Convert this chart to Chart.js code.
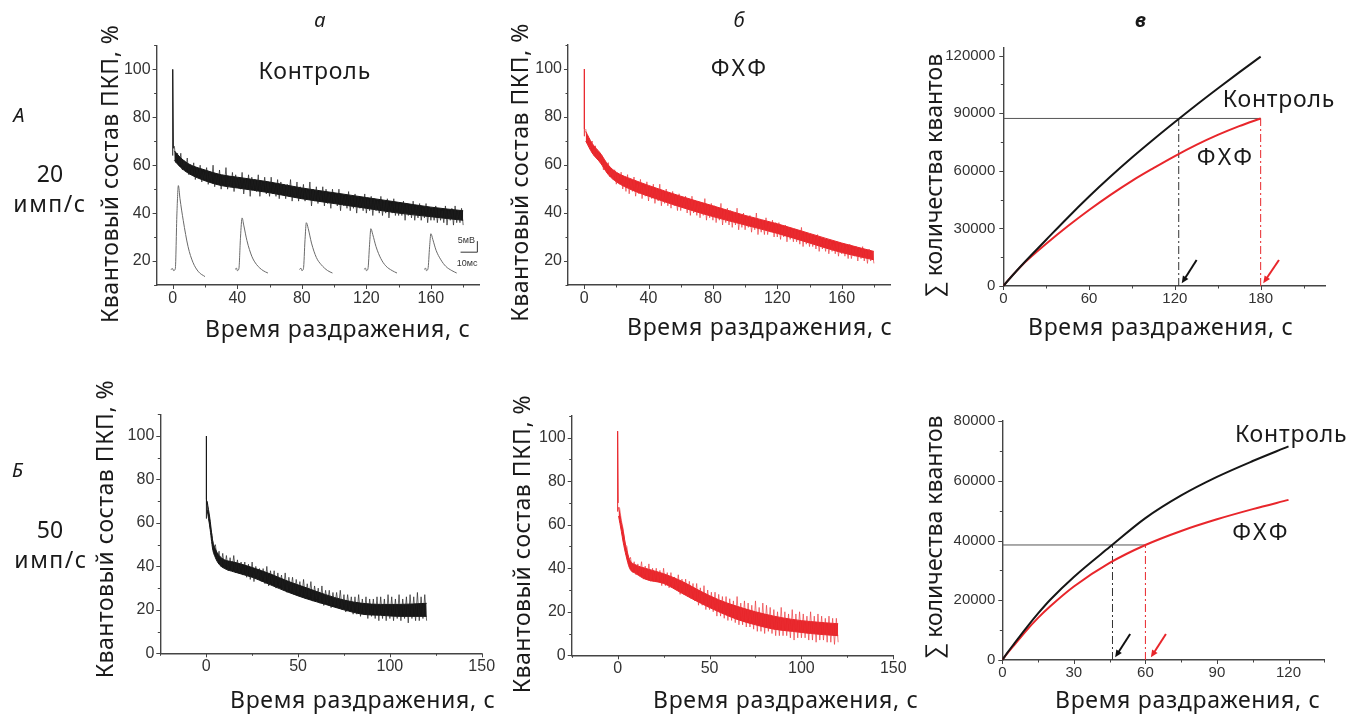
<!DOCTYPE html>
<html><head><meta charset="utf-8">
<script src="https://cdn.jsdelivr.net/npm/chart.js@4.4.1/dist/chart.umd.min.js"></script>
<style>
html,body{margin:0;padding:0;background:#fff;width:1362px;height:715px;overflow:hidden}
canvas{position:absolute;left:0;top:0}
</style></head><body>
<canvas id="cAa" width="1362" height="715"></canvas>
<canvas id="cAb" width="1362" height="715"></canvas>
<canvas id="cAc" width="1362" height="715"></canvas>
<canvas id="cBa" width="1362" height="715"></canvas>
<canvas id="cBb" width="1362" height="715"></canvas>
<canvas id="cBc" width="1362" height="715"></canvas>
<script>
// ================= DATA =================
const STEP = 1; // s between samples of the noisy traces (first sample at t = 1 s); samples alternate upper / lower excursions

// Квантовый состав ПКП, %  — 20 имп/с, Контроль (t = 1..180 s)
const ctrl20 = [68,61,65,60,65,58,62,58,63,56, 60,56,61,54,59,55,60,53,57,54,
 59,52,57,53,60,51,56,52,58,50, 56,52,59,50,55,51,57,49,56,51,
 55,50,57,48,54,50,56,47,55,50, 54,49,56,47,53,49,55,48,53,47,
 55,48,52,47,54,46,53,48,52,46, 52,47,54,45,51,47,53,45,51,46,
 52,45,50,46,53,43,50,45,51,44, 49,45,51,43,50,44,48,42,50,44,
 48,43,50,41,48,43,47,42,49,41, 47,42,48,40,47,42,46,41,48,40,
 46,41,47,39,46,41,45,40,47,39, 45,40,46,38,44,40,46,39,44,39,
 44,39,45,37,44,39,43,38,45,37, 43,38,44,37,42,38,44,36,42,37,
 42,37,43,36,42,37,41,36,43,35, 41,37,42,35,43,36,41,36,42,35];
// dense core of the same trace (times, upper and lower edge)
const coreCtrl20T  = [1,5,10,20,30,40,60,80,100,120,140,160,180];
const coreCtrl20Hi = [66,63,60.5,58,56,55,53,50.5,48.5,46.5,44.5,42.5,41];
const coreCtrl20Lo = [62,59,56.5,53.5,51.5,50.5,48.5,46,44,42,40,38.5,37];
const ctrl20SpikeT = [0, 0, 0.4];
const ctrl20SpikeV = [64, 100, 67];

// 20 имп/с, ФХФ (t = 1..180 s)
const phcp20 = [75,70,71,67,70,64,68,63,65,61, 64,58,61,57,61,55,58,54,58,52,
 56,52,57,50,55,49,56,48,54,49, 55,47,52,48,54,46,51,47,53,45,
 51,46,52,44,50,45,52,43,49,44, 50,43,48,42,49,43,47,41,48,41,
 46,42,47,40,46,39,47,40,45,39, 45,38,44,39,46,37,43,38,44,37,
 43,36,42,37,44,35,41,36,42,35, 41,34,40,35,42,33,39,34,40,33,
 38,34,39,32,38,33,40,31,37,32, 37,31,38,31,36,32,37,30,36,30,
 36,29,34,30,35,28,34,29,33,28, 33,28,32,27,34,26,32,27,31,26,
 31,26,30,25,31,24,29,25,29,24, 29,23,28,24,27,23,28,22,27,23,
 27,22,26,21,27,21,25,22,26,20, 25,21,26,20,24,19,25,20,24,19];
const corePhcp20T  = [1,5,10,15,20,30,40,60,80,100,120,140,160,180];
const corePhcp20Hi = [74,69,65,60,57,54,51.5,47,43,39,35.5,31.5,27.5,24];
const corePhcp20Lo = [70,65,61,56,53,49.5,47,42.5,38.5,35,31.5,27.5,23.5,20.5];
const phcp20SpikeT = [0, 0, 0.3];
const phcp20SpikeV = [72, 100, 75];

// 50 имп/с, Контроль (t = 1..120 s)
const ctrl50 = [66,58,55,48,50,43,47,40,46,39, 45,38,44,38,45,37,43,37,42,36,
 42,35,41,34,42,33,40,34,39,33, 39,32,40,31,38,32,38,30,37,31,
 36,29,37,28,35,29,35,27,34,28, 33,26,34,25,32,26,33,24,31,25,
 30,23,31,22,29,23,29,21,28,22, 28,21,29,20,27,19,27,20,26,18,
 26,18,27,17,25,18,26,16,25,17, 25,16,26,15,26,16,25,15,27,16,
 26,15,25,16,27,15,25,16,26,14, 27,16,26,15,28,15,26,16,27,15];
const coreCtrl50T  = [0.5,2,3.5,5,7,10,15,25,35,45,55,65,75,85,95,105,120];
const coreCtrl50Hi = [70,62,52,48,45,43,42,39.5,36.5,33,30,27,24.5,23,22.5,22.5,23];
const coreCtrl50Lo = [66,58,48,44,41,39,37.5,35,31.5,28,25,22.5,20,18,17.5,17,17];
const ctrl50SpikeT = [0, 0, 0.2, 0.5];
const ctrl50SpikeV = [62, 100, 71, 68];

// 50 имп/с, ФХФ (t = 1..120 s)
const phcp50 = [68,62,58,51,50,43,45,39,43,37, 42,37,43,35,41,35,42,34,40,34,
 40,34,39,32,40,32,38,31,38,31, 36,30,37,28,35,28,35,27,34,26,
 33,25,33,23,31,23,32,21,30,21, 29,20,29,18,28,18,27,17,27,16,
 26,16,25,15,27,14,24,14,25,13, 24,13,23,12,25,11,22,11,24,10,
 23,11,22,10,21,9,20,9,22,9, 20,9,19,8,21,7,19,8,20,8,
 19,8,18,7,20,7,18,6,19,7, 18,7,17,6,18,6,17,5,17,6];
const corePhcp50T  = [0.5,2,3,4.5,6.5,10,15,25,35,45,55,65,75,85,95,105,120];
const corePhcp50Hi = [68,61,57,50,44,41.5,40,37.5,34,29.5,25.5,22.5,20,18,16.5,15.5,14.5];
const corePhcp50Lo = [64,57,52,46,40,37.5,35,33,28.5,24,20,16.5,14,12,11,10,9];
const phcp50SpikeT = [0, 0, 0.3];
const phcp50SpikeV = [66, 103, 70];

// Inset EPSP traces (panel А-а), drawn in the panel's coordinates
const epspT = [
  [-1.2,0,0.5,1.6,2.6,3.5,4.5,6.5,9.5,12.5,16,20],
  [38.6,39.6,40,41,42,43,44,46,49,52,56,59],
  [78.5,79.5,80,81,82,82.8,84,86,89,92,96,99],
  [118.5,119.5,120,121,122,122.8,124,126,129,132,136,139],
  [155.8,156.8,157.2,158.2,159.2,160,161.2,163.2,166.2,169.2,173,176]
];
const epspV = [
  [16.5,16.8,16,16.8,40,51.5,46,37,26,19.5,15.5,13.5],
  [16.5,17,16,16.8,30,38,35,28.5,22,18.5,16,15],
  [16.5,17,16,16.8,29,36,33.5,27.5,21.5,18.5,16,15],
  [16.5,17,16,16.8,27,33.5,31,26,21,18,16,15],
  [16.5,17,16,16.8,26,31.4,29,24.5,20.5,17.8,16,15]
];

// Σ количества квантов — 20 имп/с
const cumTimesA = [0,5,10,15,20,30,45,60,75,90,105,120,135,150,165,180];
const cumCtrlA  = [0,4300,8450,12500,16400,24100,35600,46600,57000,66900,76300,85400,94300,102900,111300,119500];
const cumPhcpA  = [0,4350,8400,12200,15600,22000,31100,39600,47500,54800,61400,67700,73500,78700,83300,87300];
const crossCtrlA = 122.7;   // time at which Контроль reaches the final ФХФ total
const endPhcpA = 180;

// Σ количества квантов — 50 имп/с
const cumTimesB = [0,2,5,10,15,20,30,45,60,75,90,105,120];
const cumCtrlB  = [0,2300,5500,10700,15600,20100,27800,37800,47500,55100,61300,66600,71500];
const cumPhcpB  = [0,2100,5000,9800,14100,17900,24600,32500,38500,43200,47100,50500,53600];
const levelB = 38500;
const crossCtrlB = 46.2;
const crossPhcpB = 60;

// Tick definitions
const ticksA  = { xMajor:[0,40,80,120,160], xMinor:[20,60,100,140,180], yMajor:[20,40,60,80,100], yMinor:[10,30,50,70,90,110] };
const ticksAc = { xMajor:[0,60,120,180], xMinor:[30,90,150,210], yMajor:[0,30000,60000,90000,120000], yMinor:[15000,45000,75000,105000] };
const ticksB  = { xMajor:[0,50,100,150], xMinor:[-25,25,75,125], yMajor:[0,20,40,60,80,100], yMinor:[10,30,50,70,90,110] };
const ticksBc = { xMajor:[0,30,60,90,120], xMinor:[15,45,75,105,135], yMajor:[0,20000,40000,60000,80000], yMinor:[10000,30000,50000,70000] };

// ================= HELPERS =================
const W = 1362, H = 715;
const TF = "'Noto Sans','Open Sans',sans-serif";
const BLACK = '#161616', RED = '#e8262b';

function series(vals, step) { return vals.map((v, i) => ({ x: (i + 1) * step, y: v })); }
function pairs(ts, vs) { return ts.map((t, i) => ({ x: t, y: vs[i] })); }
function lineDs(data, color, width, extra) {
  return Object.assign({ data, borderColor: color, borderWidth: width, pointRadius: 0, fill: false, tension: 0 }, extra || {});
}
// noisy trace: thin zigzag of the excursions over a filled dense core
function noisy(vals, coreT, coreHi, coreLo, color, zigColor) {
  return [
    lineDs(series(vals, STEP), zigColor, 0.8),
    lineDs(pairs(coreT, coreHi), color, 1, { fill: '+1', backgroundColor: color, cubicInterpolationMode: 'monotone' }),
    lineDs(pairs(coreT, coreLo), color, 1, { cubicInterpolationMode: 'monotone' })
  ];
}

function makeExtras(ex, tk) {
  return {
    id: 'extras',
    afterDraw(chart) {
      const ctx = chart.ctx, xs = chart.scales.x, ys = chart.scales.y, a = chart.chartArea;
      ctx.save();
      ctx.strokeStyle = '#444'; ctx.lineWidth = 1;
      const tx = (v, len) => { const p = Math.round(xs.getPixelForValue(v)) + 0.5; ctx.beginPath(); ctx.moveTo(p, a.bottom); ctx.lineTo(p, a.bottom + len); ctx.stroke(); };
      const ty = (v, len) => { const p = Math.round(ys.getPixelForValue(v)) + 0.5; ctx.beginPath(); ctx.moveTo(a.left, p); ctx.lineTo(a.left - len, p); ctx.stroke(); };
      tk.xMajor.forEach(v => tx(v, 4)); tk.xMinor.forEach(v => tx(v, 2.5));
      tk.yMajor.forEach(v => ty(v, 4)); tk.yMinor.forEach(v => ty(v, 2.5));
      (ex.arrows || []).forEach(ar => {
        const x1 = xs.getPixelForValue(ar.x1), y1 = ys.getPixelForValue(ar.y1);
        const x2 = xs.getPixelForValue(ar.x2), y2 = ys.getPixelForValue(ar.y2);
        const ang = Math.atan2(y2 - y1, x2 - x1), hl = 8;
        ctx.strokeStyle = ar.color; ctx.fillStyle = ar.color; ctx.lineWidth = 2;
        ctx.beginPath(); ctx.moveTo(x1, y1); ctx.lineTo(x2 - Math.cos(ang) * 4, y2 - Math.sin(ang) * 4); ctx.stroke();
        ctx.beginPath(); ctx.moveTo(x2, y2);
        ctx.lineTo(x2 - hl * Math.cos(ang - 0.42), y2 - hl * Math.sin(ang - 0.42));
        ctx.lineTo(x2 - hl * Math.cos(ang + 0.42), y2 - hl * Math.sin(ang + 0.42));
        ctx.closePath(); ctx.fill();
      });
      if (ex.bar) {
        const b = ex.bar;
        ctx.strokeStyle = '#333'; ctx.lineWidth = 1;
        ctx.beginPath();
        ctx.moveTo(xs.getPixelForValue(b.x0), ys.getPixelForValue(b.y0));
        ctx.lineTo(xs.getPixelForValue(b.x1), ys.getPixelForValue(b.y0));
        ctx.lineTo(xs.getPixelForValue(b.x1), ys.getPixelForValue(b.y1));
        ctx.stroke();
      }
      (ex.texts || []).forEach(t => {
        let x = t.x, y = t.y;
        if (t.data) { x = xs.getPixelForValue(t.x); y = ys.getPixelForValue(t.y); }
        ctx.save();
        ctx.font = t.font; ctx.fillStyle = t.color || '#1a1a1a';
        ctx.textAlign = t.align || 'left'; ctx.textBaseline = 'alphabetic';
        ctx.letterSpacing = (t.spacing || 0) + 'px';
        ctx.translate(x, y);
        if (t.rotate) ctx.rotate(-Math.PI / 2);
        ctx.fillText(t.text, 0, 0);
        ctx.restore();
      });
      ctx.restore();
    }
  };
}

function makeChart(id, cfg) {
  const b = cfg.box, yW = 72, xH = 30;
  const tk = cfg.ticks;
  const xAll = tk.xMajor.concat(tk.xMinor).sort((p, q) => p - q);
  const yAll = tk.yMajor.concat(tk.yMinor).sort((p, q) => p - q);
  return new Chart(document.getElementById(id), {
    type: 'line',
    data: { datasets: cfg.datasets },
    options: {
      responsive: false, animation: false, devicePixelRatio: 1, events: [],
      layout: { padding: { left: b.l - yW, top: b.t, right: W - b.r, bottom: H - b.b - xH } },
      plugins: { legend: { display: false }, tooltip: { enabled: false } },
      scales: {
        x: {
          type: 'linear', min: cfg.xr[0], max: cfg.xr[1],
          afterFit: s => { s.height = xH; },
          afterBuildTicks: s => { s.ticks = xAll.map(v => ({ value: v })); },
          grid: { display: false, drawTicks: false },
          border: { display: true, color: '#444', width: 1.4 },
          ticks: { autoSkip: false, maxRotation: 0, minRotation: 0, padding: 4, color: '#333',
            font: { family: "'Liberation Sans',Arial,sans-serif", size: cfg.fs },
            callback: v => tk.xMajor.includes(v) ? String(v) : '' }
        },
        y: {
          type: 'linear', min: cfg.yr[0], max: cfg.yr[1],
          afterFit: s => { s.width = yW; },
          afterBuildTicks: s => { s.ticks = yAll.map(v => ({ value: v })); },
          grid: { display: false, drawTicks: false },
          border: { display: true, color: '#444', width: 1.4 },
          ticks: { autoSkip: false, padding: cfg.ypad, color: '#333',
            font: { family: "'Liberation Sans',Arial,sans-serif", size: cfg.fs },
            callback: v => tk.yMajor.includes(v) ? String(v) : '' }
        }
      }
    },
    plugins: [makeExtras(cfg.extras, tk)]
  });
}

const yTitle = 'Квантовый состав ПКП, %';
const xTitle = 'Время раздражения, с';
const sTitle = '∑ количества квантов';
const tFont = '23px ' + TF;
const ZIG_BLACK = 'rgba(30,30,30,0.85)', ZIG_RED = 'rgba(235,45,50,0.8)';

// ---------- А-а ----------
makeChart('cAa', {
  box: { l: 156.6, r: 479.3, t: 45.4, b: 285 }, xr: [-10, 190], yr: [10, 110], ticks: ticksA, fs: 16, ypad: 6,
  datasets: [
    ...noisy(ctrl20, coreCtrl20T, coreCtrl20Hi, coreCtrl20Lo, BLACK, ZIG_BLACK),
    lineDs(pairs(ctrl20SpikeT, ctrl20SpikeV), BLACK, 1),
    ...epspT.map((ts, k) => lineDs(pairs(ts, epspV[k]), '#6a6a6a', 1, { cubicInterpolationMode: 'monotone' }))
  ],
  extras: {
    bar: { x0: 178.4, x1: 188.8, y0: 23.7, y1: 28.3 },
    texts: [
      { text: 'а', x: 320, y: 26.7, font: 'italic 20px ' + TF, align: 'center' },
      { text: 'А', x: 19, y: 121.7, font: 'italic 20px ' + TF, align: 'center' },
      { text: '20', x: 50, y: 181.7, font: '23px ' + TF, align: 'center' },
      { text: 'имп/с', x: 50, y: 212, font: '23px ' + TF, align: 'center', spacing: 1.5 },
      { text: yTitle, x: 118.3, y: 323, font: tFont, rotate: true, spacing: 0.5 },
      { text: xTitle, x: 205, y: 336.7, font: tFont, spacing: 0.7 },
      { text: 'Контроль', data: true, x: 88, y: 95.8, font: '23px ' + TF, align: 'center', spacing: 0.8 },
      { text: '5мВ', data: true, x: 182, y: 27.6, font: '9px Liberation Sans', align: 'center', color: '#333' },
      { text: '10мс', data: true, x: 182.5, y: 18, font: '9px Liberation Sans', align: 'center', color: '#333' }
    ]
  }
});

// ---------- А-б ----------
makeChart('cAb', {
  box: { l: 568, r: 890, t: 45, b: 285 }, xr: [-10, 190], yr: [10, 110], ticks: ticksA, fs: 16, ypad: 6,
  datasets: [
    ...noisy(phcp20, corePhcp20T, corePhcp20Hi, corePhcp20Lo, RED, ZIG_RED),
    lineDs(pairs(phcp20SpikeT, phcp20SpikeV), RED, 1)
  ],
  extras: {
    texts: [
      { text: 'б', x: 739, y: 26.7, font: 'italic 20px ' + TF, align: 'center' },
      { text: yTitle, x: 528, y: 321.7, font: tFont, rotate: true, spacing: 0.5 },
      { text: xTitle, x: 627, y: 335, font: tFont, spacing: 0.7 },
      { text: 'ФХФ', data: true, x: 96.7, y: 97.2, font: '23px ' + TF, align: 'center', spacing: 3 }
    ]
  }
});

// ---------- А-в ----------
const levelA = cumPhcpA[cumPhcpA.length - 1];
makeChart('cAc', {
  box: { l: 1003.3, r: 1325, t: 48, b: 286 }, xr: [0, 225], yr: [0, 124000], ticks: ticksAc, fs: 15, ypad: 8,
  datasets: [
    lineDs(pairs(cumTimesA, cumCtrlA), BLACK, 2, { cubicInterpolationMode: 'monotone' }),
    lineDs(pairs(cumTimesA, cumPhcpA), RED, 2, { cubicInterpolationMode: 'monotone' }),
    lineDs([{ x: 0, y: levelA }, { x: endPhcpA, y: levelA }], '#555', 1),
    lineDs([{ x: crossCtrlA, y: 0 }, { x: crossCtrlA, y: levelA }], '#333', 1, { borderDash: [8, 3, 2, 3] }),
    lineDs([{ x: endPhcpA, y: 0 }, { x: endPhcpA, y: levelA }], RED, 1, { borderDash: [8, 3, 2, 3] })
  ],
  extras: {
    arrows: [
      { x1: 135.2, y1: 13550, x2: 124.8, y2: 1400, color: '#111' },
      { x1: 192.8, y1: 13550, x2: 181.8, y2: 1400, color: RED }
    ],
    texts: [
      { text: 'в', x: 1140.5, y: 26.7, font: 'italic bold 20px ' + TF, align: 'center' },
      { text: sTitle, x: 941.7, y: 296.7, font: tFont, rotate: true },
      { text: xTitle, x: 1028, y: 335, font: tFont, spacing: 0.7 },
      { text: 'Контроль', data: true, x: 192.8, y: 93400, font: '23px ' + TF, align: 'center', spacing: 0.8 },
      { text: 'ФХФ', data: true, x: 155.7, y: 63050, font: '23px ' + TF, align: 'center', spacing: 3 }
    ]
  }
});

// ---------- Б-а ----------
makeChart('cBa', {
  box: { l: 160.3, r: 481.7, t: 414.3, b: 653.3 }, xr: [-25, 150], yr: [0, 110], ticks: ticksB, fs: 16, ypad: 6,
  datasets: [
    ...noisy(ctrl50, coreCtrl50T, coreCtrl50Hi, coreCtrl50Lo, BLACK, ZIG_BLACK),
    lineDs(pairs(ctrl50SpikeT, ctrl50SpikeV), BLACK, 1)
  ],
  extras: {
    texts: [
      { text: 'Б', x: 17.5, y: 476.7, font: 'italic 20px ' + TF, align: 'center' },
      { text: '50', x: 50, y: 538.3, font: '23px ' + TF, align: 'center' },
      { text: 'имп/с', x: 51, y: 568.3, font: '23px ' + TF, align: 'center', spacing: 1.5 },
      { text: yTitle, x: 113.3, y: 678.3, font: tFont, rotate: true, spacing: 0.5 },
      { text: xTitle, x: 230, y: 708.3, font: tFont, spacing: 0.7 }
    ]
  }
});

// ---------- Б-б ----------
makeChart('cBb', {
  box: { l: 571.7, r: 893.3, t: 415.9, b: 655.3 }, xr: [-25, 150], yr: [0, 110], ticks: ticksB, fs: 16, ypad: 6,
  datasets: [
    ...noisy(phcp50, corePhcp50T, corePhcp50Hi, corePhcp50Lo, RED, ZIG_RED),
    lineDs(pairs(phcp50SpikeT, phcp50SpikeV), RED, 1)
  ],
  extras: {
    texts: [
      { text: yTitle, x: 530, y: 693.3, font: tFont, rotate: true, spacing: 0.5 },
      { text: xTitle, x: 653, y: 708.3, font: tFont, spacing: 0.7 }
    ]
  }
});

// ---------- Б-в ----------
makeChart('cBc', {
  box: { l: 1002.3, r: 1324.3, t: 421, b: 660 }, xr: [0, 135], yr: [0, 80000], ticks: ticksBc, fs: 15, ypad: 7,
  datasets: [
    lineDs(pairs(cumTimesB, cumCtrlB), BLACK, 2, { cubicInterpolationMode: 'monotone' }),
    lineDs(pairs(cumTimesB, cumPhcpB), RED, 2, { cubicInterpolationMode: 'monotone' }),
    lineDs([{ x: 0, y: levelB }, { x: crossPhcpB, y: levelB }], '#555', 1),
    lineDs([{ x: crossCtrlB, y: 0 }, { x: crossCtrlB, y: levelB }], '#333', 1, { borderDash: [8, 3, 2, 3] }),
    lineDs([{ x: crossPhcpB, y: 0 }, { x: crossPhcpB, y: levelB }], RED, 1, { borderDash: [8, 3, 2, 3] })
  ],
  extras: {
    arrows: [
      { x1: 53.6, y1: 8700, x2: 47.3, y2: 900, color: '#111' },
      { x1: 68.6, y1: 8700, x2: 62.3, y2: 900, color: RED }
    ],
    texts: [
      { text: sTitle, x: 941.7, y: 658.3, font: tFont, rotate: true },
      { text: xTitle, x: 1055, y: 708.3, font: tFont, spacing: 0.7 },
      { text: 'Контроль', data: true, x: 121.1, y: 73070, font: '23px ' + TF, align: 'center', spacing: 0.8 },
      { text: 'ФХФ', data: true, x: 108.6, y: 40170, font: '23px ' + TF, align: 'center', spacing: 3 }
    ]
  }
});
</script>
</body></html>
